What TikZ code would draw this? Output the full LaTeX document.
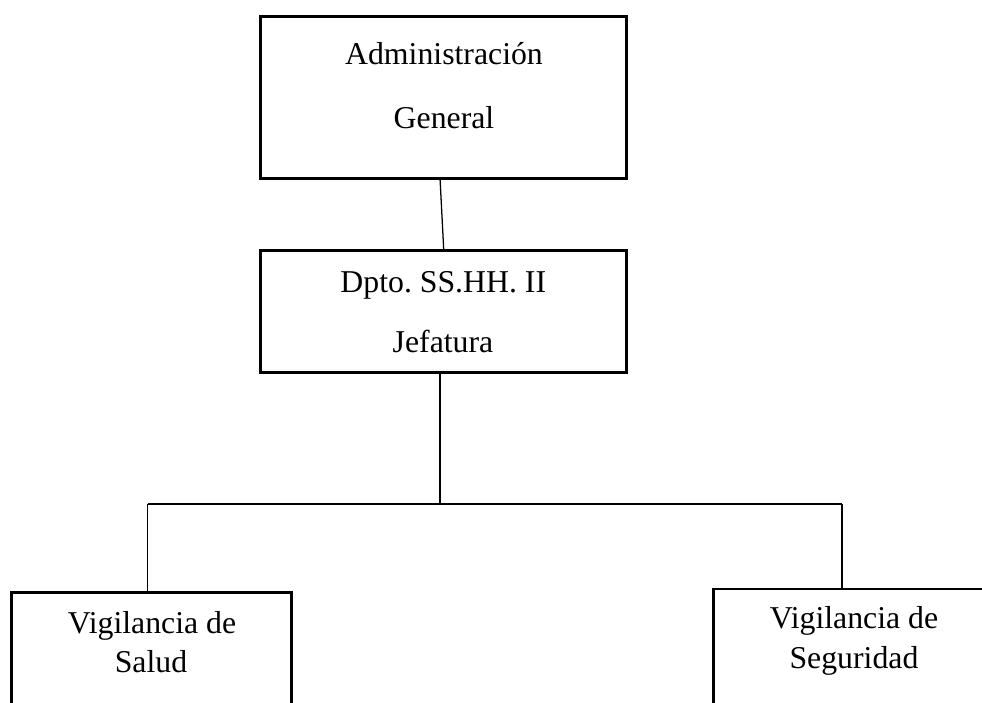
\documentclass[tikz,border=0pt]{standalone}
\usepackage{fontspec}
\setmainfont{Liberation Serif}
\begin{document}
\begin{tikzpicture}[x=0.025cm, y=-0.025cm,
        box/.style={draw, line width=2.1pt, minimum width=7cm, inner sep=0pt},
        lbl/.style={anchor=base, inner sep=0pt, font=\fontsize{22.6}{27}\selectfont\frenchspacing},
        link/.style={line width=0.9pt}]
        \clip (0,0) rectangle (982,703);

        % boxes
        \node[box, minimum width=9.15cm, minimum height=4.05cm] (admin) at (443.7,97.5) {};
        \node[box, minimum width=9.15cm, minimum height=3.04cm] (jefe) at (443.7,311.5) {};
        \node[box, minimum height=4cm] (salud) at (151.3,672.5) {};
        \node[box, minimum height=4cm] (seguridad) at (854,669) {};

        % texts
        \node[lbl] (admin1) at (444,65) {Administración};
        \node[lbl] (admin2) at (444,128.3) {General};
        \node[lbl] (jefe1) at (443.3,292.7) {Dpto. SS.HH. II};
        \node[lbl] (jefe2) at (443,352.7) {Jefatura};
        \node[lbl] (salud1) at (152,633.3) {Vigilancia de};
        \node[lbl] (salud2) at (151,672.3) {Salud};
        \node[lbl] (seg1) at (854,628.3) {Vigilancia de};
        \node[lbl] (seg2) at (854,668.3) {Seguridad};

        % connectors
        \coordinate (split) at (440,504);
        \coordinate (lft) at (147.7,504);
        \coordinate (rgt) at (842,504);
        \draw[link] ([xshift=-0.09cm]admin.south) -- (jefe.north);
        \draw[link] (jefe.south -| split) -- (split);
        \draw[link] (lft) -- (rgt);
        \draw[link] (lft) -- (lft |- salud.north);
        \draw[link] (rgt) -- (rgt |- seguridad.north);
    \end{tikzpicture}
\end{document}
